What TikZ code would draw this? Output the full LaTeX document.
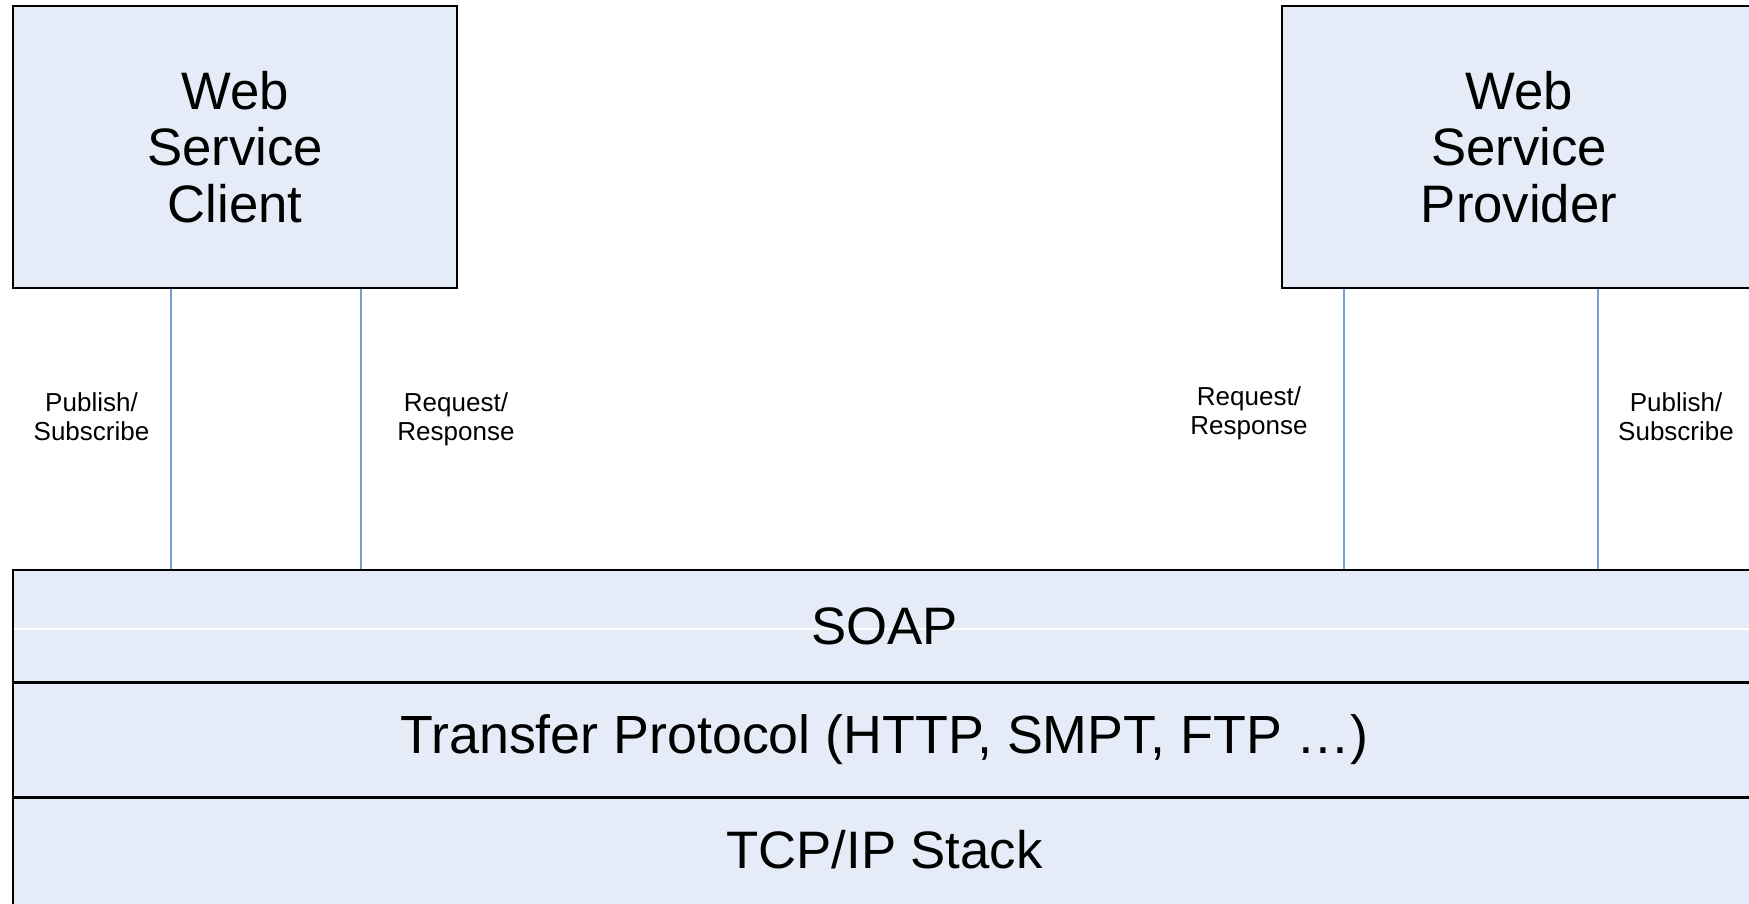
\documentclass[tikz,border=0pt]{standalone}
\usepackage{fontspec}
\setmainfont{Liberation Sans}
\usepackage{xcolor}
\usepackage{tikz}
\usetikzlibrary{positioning}
\definecolor{layerfill}{RGB}{230, 236, 247}
\definecolor{linkblue}{RGB}{120, 156, 212}
\tikzstyle{party} = [rectangle, draw=black, line width=0.4pt, fill=layerfill, minimum width=4.44cm, minimum height=2.82cm, align=center, font=\fontsize{15}{16}\selectfont]
\tikzstyle{layer} = [rectangle, draw=black, line width=0.4pt, fill=layerfill, minimum width=17.43cm, minimum height=1.12cm, inner sep=0pt, font=\fontsize{15}{16}\selectfont]
\tikzstyle{link} = [linkblue, line width=0.5pt]
\tikzstyle{tag} = [align=center, font=\fontsize{7.4}{8.2}\selectfont]

\begin{document}
\begin{tikzpicture}
    \useasboundingbox (0,0) rectangle (17.49,-9.04);

    % Client and provider
    \node[party] (client) at (2.35,-1.47) {Web\\Service\\Client};
    \node[party, minimum width=4.74cm] (provider) at (15.19,-1.47) {Web\\Service\\Provider};

    % Protocol stack
    \node[layer, path picture={\draw[white, line width=0.5pt] ([yshift=-0.03cm]path picture bounding box.west) -- ([yshift=-0.03cm]path picture bounding box.east);}] (soap) at (8.845,-6.26) {SOAP};
    \node[layer, below=0pt of soap, minimum height=1.13cm, font=\fontsize{15.3}{16}\selectfont] (transfer) {Transfer Protocol (HTTP, SMPT, FTP …)};
    \node[layer, below=0pt of transfer, minimum height=1.11cm, text height=11pt, text depth=2.5pt] (tcpip) {TCP/IP Stack};

    % Links down to SOAP
    \foreach \dx in {1.59, 3.49}
        \draw[link] ([xshift=\dx cm]client.south west) -- ([xshift=\dx cm]client.south west |- soap.north);
    \foreach \dx in {0.63, 3.17}
        \draw[link] ([xshift=\dx cm]provider.south west) -- ([xshift=\dx cm]provider.south west |- soap.north);

    % Link labels
    \node[tag] (pubclient) at (0.915,-4.165) {Publish/\\Subscribe};
    \node[tag] (reqclient) at (4.56,-4.195) {Request/\\Response};
    \node[tag] (reqprovider) at (12.49,-4.135) {Request/\\Response};
    \node[tag] (pubprovider) at (16.76,-4.165) {Publish/\\Subscribe};
\end{tikzpicture}
\end{document}
